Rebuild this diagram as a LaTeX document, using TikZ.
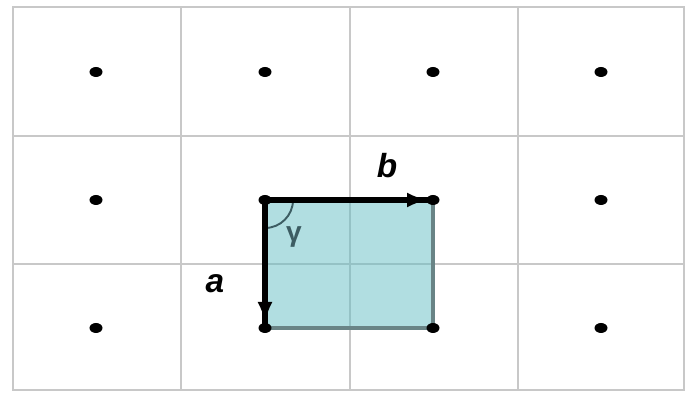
\documentclass[tikz,border=0pt]{standalone}
\usepackage{fontspec}
\setmainfont{Liberation Sans}
\usetikzlibrary{arrows.meta,calc}

\definecolor{gridgray}{RGB}{200,200,200}
\definecolor{cellfill}{RGB}{100,190,196}
\definecolor{celledge}{RGB}{105,132,134}
\definecolor{anglecol}{RGB}{60,92,98}

\begin{document}
\begin{tikzpicture}[scale=1.0]

\useasboundingbox (0,0) rectangle (13.7,7.86);

% lattice lines
\draw[gridgray,line width=1.4pt] (0.26,0.06) rectangle (13.68,7.72);
\draw[gridgray,line width=1.4pt] (3.62,0.06)--(3.62,7.72);
\draw[gridgray,line width=1.4pt] (7.00,0.06)--(7.00,7.72);
\draw[gridgray,line width=1.4pt] (10.36,0.06)--(10.36,7.72);
\draw[gridgray,line width=1.4pt] (0.26,5.14)--(13.68,5.14);
\draw[gridgray,line width=1.4pt] (0.26,2.58)--(13.68,2.58);

\coordinate (p11) at (1.92,6.42);
\coordinate (p12) at (5.30,6.42);
\coordinate (p13) at (8.66,6.42);
\coordinate (p14) at (12.02,6.42);
\coordinate (p21) at (1.92,3.86);
\coordinate (o)   at (5.30,3.86);
\coordinate (pb)  at (8.66,3.86);
\coordinate (p24) at (12.02,3.86);
\coordinate (p31) at (1.92,1.30);
\coordinate (pa)  at (5.30,1.30);
\coordinate (pab) at (8.66,1.30);
\coordinate (p34) at (12.02,1.30);

% unit cell
\fill[cellfill,opacity=0.5] (o) rectangle (pab);
\draw[celledge,line width=1.8pt] (pb)--(pab)--(pa);

\draw[anglecol,line width=1.1pt] ($(o)+(0.56,0)$) arc (0:-90:0.56);
\node[anglecol] (g) at (5.88,3.12) {\fontsize{16}{16}\selectfont\bfseries γ};

\draw[line width=2.9pt] (o)--(pb);
\draw[line width=2.9pt] (o)--(pa);
\draw[line width=2.9pt,-{Latex[length=0.42cm,width=0.3cm]},shorten >=0.1cm] (o)--(pb);
\draw[line width=2.9pt,-{Latex[length=0.42cm,width=0.3cm]},shorten >=0.1cm] (o)--(pa);

\fill (p11) ellipse (0.13 and 0.1);
\fill (p12) ellipse (0.13 and 0.1);
\fill (p13) ellipse (0.13 and 0.1);
\fill (p14) ellipse (0.13 and 0.1);
\fill (p21) ellipse (0.13 and 0.1);
\fill (o)   ellipse (0.13 and 0.1);
\fill (pb)  ellipse (0.13 and 0.1);
\fill (p24) ellipse (0.13 and 0.1);
\fill (p31) ellipse (0.13 and 0.1);
\fill (pa)  ellipse (0.13 and 0.1);
\fill (pab) ellipse (0.13 and 0.1);
\fill (p34) ellipse (0.13 and 0.1);

\node (la) at (4.30,2.18) {\fontsize{19}{19}\selectfont\bfseries\itshape a};
\node (lb) at (7.74,4.54) {\fontsize{19}{19}\selectfont\bfseries\itshape b};

\end{tikzpicture}
\end{document}
